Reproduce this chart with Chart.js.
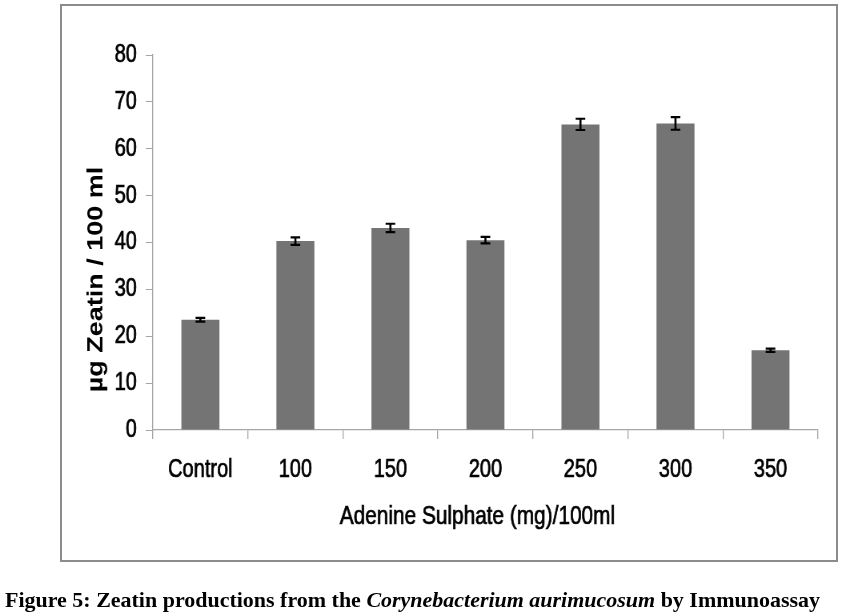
<!DOCTYPE html>
<html><head><meta charset="utf-8">
<script src="https://cdn.jsdelivr.net/npm/chart.js@4.4.1/dist/chart.umd.min.js"></script>
<style>
html,body{margin:0;padding:0;background:#fff;width:858px;height:616px;overflow:hidden;}
#frame{position:absolute;left:60px;top:4px;width:778px;height:558px;border:2px solid #8c8c8c;box-sizing:border-box;}
#c{position:absolute;left:0;top:0;}
#cap{position:absolute;left:5px;top:590px;font:bold 21px 'Liberation Serif','Times New Roman',serif;line-height:21px;white-space:nowrap;transform-origin:0 0;color:#000;}
</style></head><body>
<div id="frame"></div>
<canvas id="c" width="1072" height="616" style="width:858px;height:616px"></canvas>
<div id="cap">Figure 5: Zeatin productions from the <i>Corynebacterium aurimucosum</i> by Immunoassay</div>
<script>
const categories = ['Control', '100', '150', '200', '250', '300', '350'];
const values = [23.5, 40.3, 43.1, 40.5, 65.2, 65.4, 17.0];
const errors = [0.4, 0.8, 0.9, 0.7, 1.2, 1.35, 0.35];
const yTicks = [0, 10, 20, 30, 40, 50, 60, 70, 80];
const xTitle = 'Adenine Sulphate (mg)/100ml';
const yTitle = 'µg Zeatin / 100 ml';

const FONT = "'Liberation Sans', Arial, sans-serif";

const errorBars = {
  id: 'errorBars',
  afterDatasetsDraw(chart) {
    const meta = chart.getDatasetMeta(0);
    const y = chart.scales.y;
    const ctx = chart.ctx;
    ctx.save();
    ctx.strokeStyle = '#000';
    meta.data.forEach((bar, i) => {
      const top = y.getPixelForValue(values[i] + errors[i]);
      const bot = y.getPixelForValue(values[i] - errors[i]);
      ctx.lineWidth = 2.6;
      ctx.beginPath(); ctx.moveTo(bar.x, top); ctx.lineTo(bar.x, bot); ctx.stroke();
      ctx.lineWidth = 2.2;
      ctx.beginPath();
      ctx.moveTo(bar.x - 6, top); ctx.lineTo(bar.x + 6, top);
      ctx.moveTo(bar.x - 6, bot); ctx.lineTo(bar.x + 6, bot);
      ctx.stroke();
    });
    ctx.restore();
  }
};

const axisTitles = {
  id: 'axisTitles',
  afterDraw(chart) {
    const { ctx, scales: { x, y } } = chart;
    ctx.save();
    ctx.fillStyle = '#000';
    ctx.strokeStyle = '#000';
    ctx.textAlign = 'center';
    ctx.textBaseline = 'middle';
    ctx.font = 'bold 27px ' + FONT;
    ctx.translate(y.left + 16, (y.top + y.bottom) / 2 + 37);
    ctx.rotate(-Math.PI / 2);
    ctx.fillText(yTitle, 0, 0);
    ctx.restore();

    ctx.save();
    ctx.fillStyle = '#000';
    ctx.strokeStyle = '#000';
    ctx.lineWidth = 0.7;
    ctx.textAlign = 'center';
    ctx.textBaseline = 'middle';
    ctx.font = '26px ' + FONT;
    const tx = (x.left + x.right) / 2 - 10;
    const ty = x.bottom - 15.6;
    ctx.fillText(xTitle, tx, ty);
    ctx.strokeText(xTitle, tx, ty);
    ctx.restore();
  }
};

new Chart(document.getElementById('c'), {
  type: 'bar',
  data: {
    labels: categories,
    datasets: [{
      data: values,
      backgroundColor: '#747474',
      borderWidth: 0,
      barPercentage: 0.4,
      categoryPercentage: 1.0
    }]
  },
  options: {
    responsive: false,
    maintainAspectRatio: false,
    animation: false,
    layout: { padding: { left: 105, right: 50, top: 55, bottom: 84 } },
    plugins: { legend: { display: false }, tooltip: { enabled: false }, title: { display: false } },
    scales: {
      x: {
        afterFit(scale) { scale.height = 102; },
        grid: { display: true, drawOnChartArea: false, drawTicks: true, tickLength: 9, color: '#a6a6a6', lineWidth: 1.3, offset: true },
        border: { display: true, color: '#a6a6a6', width: 1.2 },
        ticks: { color: '#000', font: { family: FONT, size: 25 }, padding: 16, maxRotation: 0, autoSkip: false, textStrokeColor: '#000', textStrokeWidth: 0.7 },
        title: { display: false }
      },
      y: {
        min: 0, max: 80,
        afterFit(scale) { scale.width = 86; },
        afterBuildTicks(scale) { scale.ticks = yTicks.map(v => ({ value: v })); },
        grid: { display: true, drawOnChartArea: false, drawTicks: true, tickLength: 9, color: '#a6a6a6', lineWidth: 1 },
        border: { display: true, color: '#a6a6a6', width: 1.3 },
        ticks: { color: '#000', font: { family: FONT, size: 25 }, padding: 11, textStrokeColor: '#000', textStrokeWidth: 0.7 },
        title: { display: false }
      }
    }
  },
  plugins: [errorBars, axisTitles]
});

const cap = document.getElementById('cap');
const w = cap.getBoundingClientRect().width;
cap.style.transform = 'scaleX(' + (815 / w) + ')';
</script>
</body></html>
